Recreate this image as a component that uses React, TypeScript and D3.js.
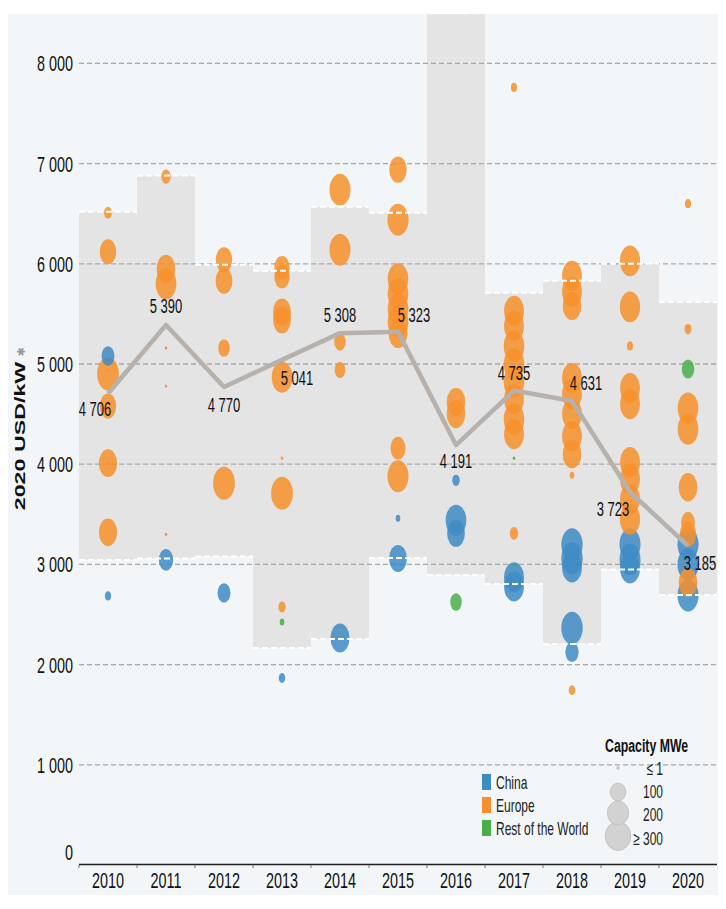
import React from "react";
import * as d3 from "d3";

const years = [2010, 2011, 2012, 2013, 2014, 2015, 2016, 2017, 2018, 2019, 2020];
const averages = [4706, 5390, 4770, 5041, 5308, 5323, 4191, 4735, 4631, 3723, 3185];
const averageLabels = ["4 706", "5 390", "4 770", "5 041", "5 308", "5 323", "4 191", "4 735", "4 631", "3 723", "3 185"];
const bandHigh = [6520, 6880, 5990, 5930, 6570, 6510, 8500, 5710, 5830, 6000, 5620];
const bandLow = [3045, 3060, 3080, 2165, 2255, 3065, 2895, 2805, 2205, 2950, 2695];
const yTicks = [1000, 2000, 3000, 4000, 5000, 6000, 7000, 8000];
const yTickLabels = ["1 000", "2 000", "3 000", "4 000", "5 000", "6 000", "7 000", "8 000"];

// [year, USD/kW, capacity MW]
const europePoints: [number, number, number][] = [
  [2010, 6510, 25], [2010, 6120, 150], [2010, 4900, 280], [2010, 4580, 150], [2010, 4010, 190], [2010, 3320, 190], [2010, 4010, 1], [2010, 4940, 1],
  [2011, 6870, 40], [2011, 5950, 200], [2011, 5800, 250], [2011, 5160, 1], [2011, 4780, 1], [2011, 3300, 1],
  [2012, 6040, 150], [2012, 5830, 160], [2012, 5160, 65], [2012, 3810, 280],
  [2013, 5960, 130], [2013, 5870, 130], [2013, 5520, 180], [2013, 5440, 180], [2013, 4870, 250], [2013, 4060, 1], [2013, 3710, 280], [2013, 2575, 20],
  [2014, 6740, 260], [2014, 6140, 260], [2014, 5220, 65], [2014, 4940, 55],
  [2015, 6940, 170], [2015, 6440, 260], [2015, 5850, 250], [2015, 5700, 250], [2015, 5550, 250], [2015, 5420, 250], [2015, 5300, 200], [2015, 4160, 120], [2015, 3880, 260],
  [2016, 4620, 200], [2016, 4500, 200],
  [2017, 7760, 12], [2017, 5530, 230], [2017, 5380, 230], [2017, 5180, 250], [2017, 5000, 250], [2017, 4820, 250], [2017, 4650, 230], [2017, 4450, 250], [2017, 4300, 230], [2017, 3310, 30],
  [2018, 5880, 230], [2018, 5720, 230], [2018, 5580, 200], [2018, 4860, 230], [2018, 4700, 230], [2018, 4500, 230], [2018, 4280, 230], [2018, 4100, 200], [2018, 3890, 5], [2018, 1745, 15],
  [2019, 6030, 240], [2019, 5570, 240], [2019, 5180, 12], [2019, 4760, 230], [2019, 4600, 230], [2019, 4020, 230], [2019, 3850, 230], [2019, 3650, 230], [2019, 3450, 240],
  [2020, 6600, 12], [2020, 5350, 18], [2020, 4560, 250], [2020, 4350, 250], [2020, 3770, 200], [2020, 3420, 100], [2020, 3300, 150], [2020, 2820, 200],
];
const chinaPoints: [number, number, number][] = [
  [2010, 5080, 85], [2010, 2685, 12],
  [2011, 3045, 110],
  [2012, 2715, 85],
  [2013, 1866, 15],
  [2014, 2265, 210],
  [2015, 3460, 5], [2015, 3060, 180],
  [2016, 3840, 22], [2016, 3440, 250], [2016, 3310, 180],
  [2017, 2870, 230], [2017, 2780, 230],
  [2018, 3200, 270], [2018, 3060, 270], [2018, 2970, 230], [2018, 2365, 270], [2018, 2125, 90],
  [2019, 3200, 260], [2019, 3050, 260], [2019, 2960, 230],
  [2020, 3200, 260], [2020, 3000, 260], [2020, 2690, 260],
];
const restPoints: [number, number, number][] = [
  [2013, 2425, 5], [2016, 2625, 65], [2017, 4060, 1], [2017, 2990, 1], [2020, 4950, 80],
];

const regions = ["China", "Europe", "Rest of the World"];
const regionColors = ["#3e8bc4", "#f7902c", "#4aae4a"];
const sizeLegendValues = [1, 100, 200, 300];
const sizeLegendLabels = ["≤ 1", "100", "200", "≥ 300"];

// label placement offsets (layout)
const labelOffsets: [number, number][] = [
  [-13, 23], [0, -12], [0, 25], [15, 25], [0, -11], [16, -10], [0, 23], [0, -11], [14, -11], [-17, 24], [12, 24],
];

const FONT = "'Liberation Sans', Arial, sans-serif";
const SY = 1.55;

function T(props: { x: number; y: number; size: number; anchor?: string; weight?: string; fill?: string; children: any }) {
  const { x, y, size, anchor = "start", weight = "normal", fill = "#111", children } = props;
  return (
    <g transform={`translate(${x},${y}) scale(1,${SY})`}>
      <text x={0} y={0} fontSize={size} textAnchor={anchor} fontWeight={weight} fill={fill} fontFamily={FONT}>
        {children}
      </text>
    </g>
  );
}

export default function App() {
  const W = 726, H = 909;
  const x = d3.scaleBand<number>().domain(years).range([79, 717]).padding(0);
  const y = d3.scaleLinear().domain([0, 8000]).range([865, 63.4]);
  const r = d3.scaleSqrt().domain([0, 300]).range([0, 15.5]).clamp(true);
  const ry = (c: number) => (c <= 1 ? 1.6 : 1.5 + r(c));
  const ASPECT = 0.66;
  const cx = (yr: number) => (x(yr) as number) + x.bandwidth() / 2;

  const all = [
    ...chinaPoints.map((p) => ({ p, ci: 0 })),
    ...europePoints.map((p) => ({ p, ci: 1 })),
    ...restPoints.map((p) => ({ p, ci: 2 })),
  ].sort((a, b) => b.p[2] - a.p[2]);

  const line = d3
    .line<number>()
    .x((_, i) => cx(years[i]))
    .y((d) => y(d));

  const x0 = 79, x1 = 717;

  return (
    <svg width={W} height={H} style={{ position: "absolute", left: 0, top: 0 }}>
      <rect x={0} y={0} width={W} height={H} fill="#fff" />
      <rect x={8} y={14} width={710} height={881} fill="#f2f6f8" />
      <defs>
        <clipPath id="plotclip">
          <rect x={8} y={14} width={710} height={881} />
        </clipPath>
      </defs>
      {/* bands */}
      <g clipPath="url(#plotclip)">
        {years.map((yr, i) => (
          <rect key={yr} x={x(yr)} y={y(bandHigh[i])} width={x.bandwidth()} height={y(bandLow[i]) - y(bandHigh[i])} fill="#e4e4e4" />
        ))}
      </g>
      {/* gridlines */}
      {yTicks.map((t) => (
        <line key={t} x1={x0} x2={x1} y1={y(t)} y2={y(t)} stroke="#a8a8a8" strokeWidth={1.3} strokeDasharray="5 3" />
      ))}
      {/* bubbles */}
      {all.map(({ p, ci }, i) => {
        const rr = ry(p[2]);
        return (
          <ellipse key={i} cx={cx(p[0])} cy={y(p[1])} rx={Math.max(rr * ASPECT, 1.3)} ry={rr} fill={regionColors[ci]} fillOpacity={p[2] <= 1 ? 0.9 : 0.85} />
        );
      })}
      {/* band edges */}
      <g clipPath="url(#plotclip)">
        {years.map((yr, i) => (
          <g key={yr}>
            <line x1={x(yr)} x2={(x(yr) as number) + x.bandwidth()} y1={y(bandHigh[i])} y2={y(bandHigh[i])} stroke="#fff" strokeWidth={2} strokeDasharray="6 3" />
            <line x1={x(yr)} x2={(x(yr) as number) + x.bandwidth()} y1={y(bandLow[i])} y2={y(bandLow[i])} stroke="#fff" strokeWidth={2} strokeDasharray="6 3" />
          </g>
        ))}
      </g>
      {/* average line */}
      <path d={line(averages) || ""} fill="none" stroke="#b6b1ac" strokeWidth={4.5} strokeLinejoin="round" />
      {averages.map((v, i) => (
        <T key={i} x={cx(years[i]) + labelOffsets[i][0]} y={y(v) + labelOffsets[i][1]} size={13} anchor="middle">
          {averageLabels[i]}
        </T>
      ))}
      {/* y axis labels */}
      {yTicks.map((t, i) => (
        <T key={t} x={73} y={y(t) + 8} size={14.4} anchor="end">
          {yTickLabels[i]}
        </T>
      ))}
      <T x={73} y={860} size={14.4} anchor="end">0</T>
      {/* y title */}
      <g transform={`translate(25,436) rotate(-90) scale(${SY},1)`}>
        <text x={0} y={0} fontSize={15} fontWeight="bold" textAnchor="middle" fill="#111" fontFamily={FONT}>
          2020 USD/kW
        </text>
      </g>
      <g transform={`translate(25,352) rotate(-90)`}>
        <text x={0} y={0} fontSize={11} textAnchor="middle" fill="#999" fontFamily="'DejaVu Sans', sans-serif">✱</text>
      </g>
      {/* x axis */}
      <line x1={x0} x2={x1} y1={864.5} y2={864.5} stroke="#222" strokeWidth={1.5} />
      {years.map((yr) => (
        <line key={yr} x1={x(yr)} x2={x(yr)} y1={865} y2={868} stroke="#777" strokeWidth={1} />
      ))}
      {years.map((yr) => (
        <T key={yr} x={cx(yr)} y={888} size={14.4} anchor="middle">
          {String(yr)}
        </T>
      ))}
      {/* color legend */}
      {regions.map((name, i) => (
        <g key={name}>
          <rect x={482} y={774 + i * 23} width={9} height={16} fill={regionColors[i]} />
          <T x={496} y={789 + i * 23} size={12} fill="#222">
            {name}
          </T>
        </g>
      ))}
      {/* size legend */}
      <T x={605} y={752} size={12.3} weight="bold" fill="#111">Capacity MWe</T>
      {sizeLegendValues.slice().reverse().map((v, j) => {
        const i = sizeLegendValues.length - 1 - j;
        const cy = [768, 792, 813, 836][i];
        const rr = ry(v);
        return (
          <ellipse key={v} cx={618} cy={cy} rx={Math.max(rr * 0.75, 1.2)} ry={i === 0 ? 1.5 : rr * 0.85} fill="#d2d2d2" stroke="#c4c4c4" strokeWidth={1} />
        );
      })}
      {sizeLegendLabels.map((lab, i) => (
        <T key={lab} x={663} y={[775, 798, 821, 845][i]} size={12} anchor="end" fill="#222">
          {lab}
        </T>
      ))}
    </svg>
  );
}
